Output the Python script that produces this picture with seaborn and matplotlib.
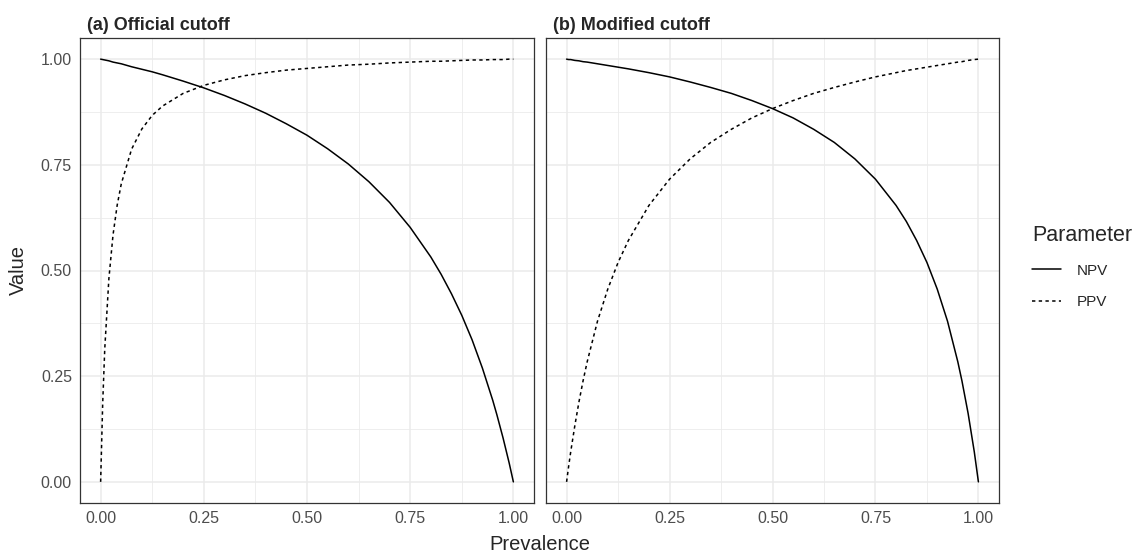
import pandas as pd
import seaborn as sns
import matplotlib.pyplot as plt
from matplotlib.ticker import MultipleLocator

# prevalence grid shared by all curves
prevalence = [0, 0.005, 0.01, 0.02, 0.03, 0.04, 0.05, 0.075, 0.1, 0.125, 0.15, 0.2,
              0.25, 0.3, 0.35, 0.4, 0.45, 0.5, 0.55, 0.6, 0.65, 0.7, 0.75, 0.8,
              0.825, 0.85, 0.875, 0.9, 0.925, 0.95, 0.96, 0.975, 0.99, 1.0]

# (a) official cutoff
npv_official = [1.0, 0.999, 0.998, 0.996, 0.993, 0.991, 0.989, 0.982, 0.976, 0.970,
                0.963, 0.948, 0.932, 0.914, 0.894, 0.872, 0.847, 0.820, 0.788, 0.752,
                0.710, 0.661, 0.602, 0.532, 0.491, 0.445, 0.394, 0.336, 0.269, 0.193,
                0.159, 0.104, 0.044, 0.0]
ppv_official = [0.0, 0.186, 0.315, 0.481, 0.584, 0.654, 0.705, 0.787, 0.835, 0.867,
                0.889, 0.919, 0.938, 0.951, 0.961, 0.968, 0.974, 0.978, 0.982, 0.986,
                0.988, 0.991, 0.993, 0.995, 0.995, 0.996, 0.997, 0.998, 0.998, 0.999,
                0.999, 0.999, 1.0, 1.0]

# (b) modified cutoff
npv_modified = [1.0, 0.999, 0.999, 0.997, 0.996, 0.994, 0.993, 0.989, 0.985, 0.981,
                0.977, 0.968, 0.958, 0.946, 0.933, 0.919, 0.902, 0.883, 0.861, 0.834,
                0.803, 0.764, 0.716, 0.654, 0.616, 0.571, 0.519, 0.456, 0.380, 0.284,
                0.239, 0.162, 0.071, 0.0]
ppv_modified = [0.0, 0.037, 0.071, 0.133, 0.189, 0.239, 0.284, 0.380, 0.456, 0.519,
                0.571, 0.654, 0.716, 0.764, 0.803, 0.834, 0.861, 0.883, 0.902, 0.919,
                0.933, 0.946, 0.958, 0.968, 0.973, 0.977, 0.981, 0.985, 0.989, 0.993,
                0.994, 0.997, 0.999, 1.0]

panel_titles = ['(a) Official cutoff', '(b) Modified cutoff']

frames = []
for title, npv, ppv in [(panel_titles[0], npv_official, ppv_official),
                        (panel_titles[1], npv_modified, ppv_modified)]:
    frames.append(pd.DataFrame({'Prevalence': prevalence, 'Value': npv,
                                'Parameter': 'NPV', 'panel': title}))
    frames.append(pd.DataFrame({'Prevalence': prevalence, 'Value': ppv,
                                'Parameter': 'PPV', 'panel': title}))
df = pd.concat(frames, ignore_index=True)

sns.set_style('white')
plt.rcParams['font.family'] = ['Liberation Sans', 'DejaVu Sans']

W, H = 1133, 555
fig = plt.figure(figsize=(W / 100, H / 100), dpi=100)
axes = [fig.add_axes([80 / W, 52 / H, 454 / W, 465 / H]),
        fig.add_axes([546 / W, 52 / H, 453 / W, 465 / H])]

for i, (ax, title) in enumerate(zip(axes, panel_titles)):
    sub = df[df['panel'] == title]
    sns.lineplot(data=sub, x='Prevalence', y='Value', style='Parameter',
                 dashes={'NPV': '', 'PPV': (2.2, 2.2)}, color='black',
                 linewidth=1.1, ax=ax, legend=(i == 1))
    ax.set_xlim(-0.05, 1.05)
    ax.set_ylim(-0.05, 1.05)
    ax.xaxis.set_major_locator(MultipleLocator(0.25))
    ax.yaxis.set_major_locator(MultipleLocator(0.25))
    ax.xaxis.set_minor_locator(MultipleLocator(0.125))
    ax.yaxis.set_minor_locator(MultipleLocator(0.125))
    ax.grid(which='major', color='#EBEBEB', linewidth=1.1)
    ax.grid(which='minor', color='#EBEBEB', linewidth=0.6)
    ax.set_axisbelow(True)
    ax.tick_params(which='major', direction='out', length=2.8, width=0.8,
                   color='#333333', labelsize=11.5, labelcolor='#4D4D4D', pad=3)
    ax.tick_params(which='minor', length=0)
    ax.xaxis.set_major_formatter(plt.FuncFormatter(lambda v, p: f'{v:.2f}'))
    ax.yaxis.set_major_formatter(plt.FuncFormatter(lambda v, p: f'{v:.2f}'))
    for s in ax.spines.values():
        s.set_color('#333333')
        s.set_linewidth(0.9)
    ax.set_title(title, loc='left', fontsize=13, fontweight='bold', pad=6, x=0.015)
    ax.set_xlabel('')
    ax.set_ylabel('')
    if i == 1:
        ax.set_yticklabels([])
        ax.tick_params(axis='y', which='major', length=0)

# legend to the right of panel b
handles, labels = axes[1].get_legend_handles_labels()
axes[1].get_legend().remove()
leg = fig.legend(handles=handles, labels=labels, title='Parameter',
                 loc='upper left', bbox_to_anchor=(1020 / W, 1 - 213 / H),
                 frameon=False, fontsize=11, title_fontsize=15.5,
                 handlelength=1.9, handletextpad=1.0, labelspacing=1.15,
                 borderpad=0.3)
leg._legend_box.align = 'left'

fig.text(540 / W, 1 - 544 / H, 'Prevalence', ha='center', va='center', fontsize=14.5)
fig.text(18 / W, 1 - 270 / H, 'Value', ha='center', va='center', fontsize=14.5,
         rotation=90)

fig.savefig('out.png', dpi=100)
plt.close(fig)
